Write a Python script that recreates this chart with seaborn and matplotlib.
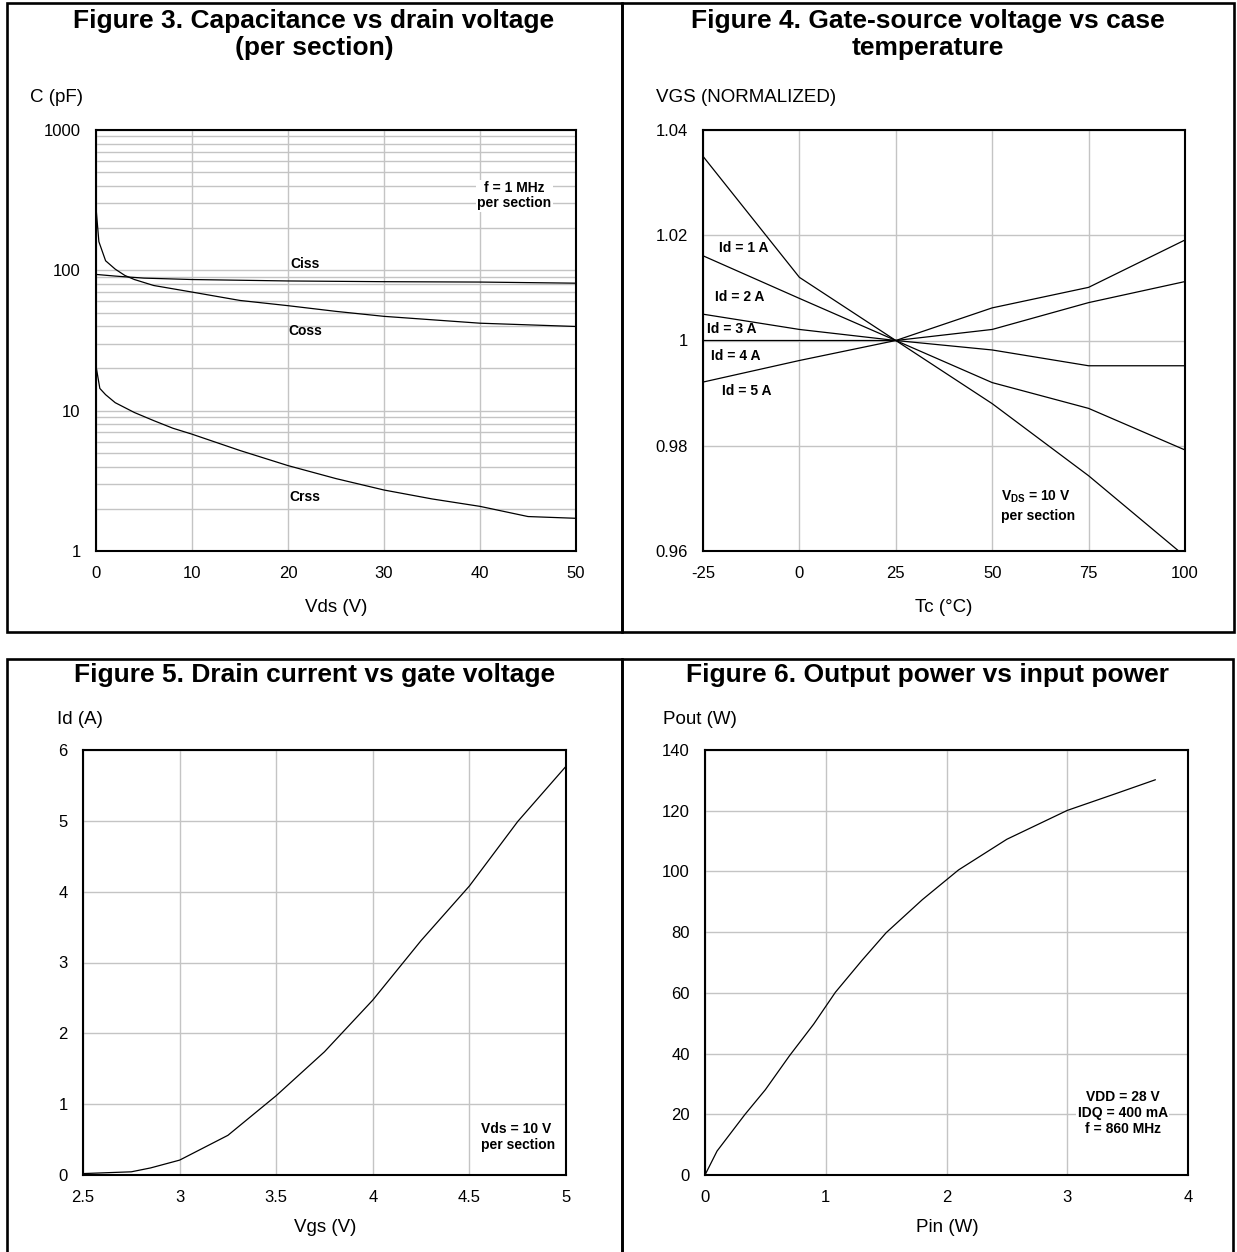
import numpy as np
import pandas as pd
import matplotlib
matplotlib.use("Agg")
import matplotlib.pyplot as plt
import matplotlib.patches as mpatches
from matplotlib.ticker import LogLocator, NullFormatter, FixedLocator, FormatStrFormatter
import seaborn as sns

sns.set_style("white")
plt.rcParams["font.family"] = ["Liberation Sans", "DejaVu Sans"]
plt.rcParams["axes.unicode_minus"] = False
plt.rcParams["mathtext.fontset"] = "custom"
plt.rcParams["mathtext.bf"] = "Liberation Sans:bold"
plt.rcParams["mathtext.rm"] = "Liberation Sans"
plt.rcParams["mathtext.default"] = "bf"
for chave in ["text.color", "axes.labelcolor", "xtick.color", "ytick.color"]:
    plt.rcParams[chave] = "black"

LARGURA, ALTURA = 1237, 1252
COR_GRADE = "#c4c4c4"
COR_LINHA = "black"

# ── Figure 3: capacitancia x Vds ─────────────────────────────────────────────
vds_ciss = [0, 2, 5, 10, 15, 20, 25, 30, 40, 50]
ciss = [93.5, 91, 88, 86, 85, 84, 83.5, 83, 82.5, 81]
vds_coss = [0, 0.3, 1, 2, 3, 4, 6, 10, 15, 20, 25, 30, 40, 50]
coss = [280, 160, 117, 102, 92, 86, 78, 70, 61, 56, 51, 47, 42, 39.8]
vds_crss = [0, 0.4, 1, 2, 4, 6, 8, 10, 15, 20, 25, 30, 35, 40, 45, 50]
crss = [20.8, 14.4, 13.0, 11.4, 9.7, 8.5, 7.5, 6.8, 5.2, 4.06, 3.28, 2.72, 2.35, 2.08, 1.76, 1.71]

# ── Figure 4: VGS normalizado x Tc ───────────────────────────────────────────
tc = [-25, 0, 25, 50, 75, 100]
vgs_id1 = [1.035, 1.012, 1.0, 0.988, 0.9743, 0.959]
vgs_id2 = [1.0161, 1.008, 1.0, 0.992, 0.9871, 0.9792]
vgs_id3 = [1.005, 1.0021, 1.0, 0.9982, 0.9952, 0.9952]
vgs_id4 = [1.0, 1.0, 1.0, 1.0021, 1.0072, 1.0112]
vgs_id5 = [0.9921, 0.9962, 1.0, 1.0062, 1.0101, 1.0191]
rotulos_id = ["Id = 1 A", "Id = 2 A", "Id = 3 A", "Id = 4 A", "Id = 5 A"]

# ── Figure 5: Id x Vgs ───────────────────────────────────────────────────────
vgs = [2.5, 2.75, 2.85, 3.0, 3.25, 3.5, 3.75, 4.0, 4.25, 4.5, 4.75, 5.0]
id_a = [0.02, 0.045, 0.1, 0.21, 0.56, 1.12, 1.74, 2.47, 3.31, 4.08, 4.99, 5.77]

# ── Figure 6: Pout x Pin ─────────────────────────────────────────────────────
pin = [0, 0.1, 0.33, 0.5, 0.7, 0.9, 1.08, 1.3, 1.5, 1.8, 2.1, 2.5, 3.0, 3.4, 3.73]
pout = [0, 7.9, 19.9, 28.1, 39.3, 49.7, 60.2, 70.7, 79.8, 90.7, 100.5, 110.6, 120.1, 125.6, 130.2]


def fx(x):
    return x / LARGURA


def fy(y):
    return 1 - y / ALTURA


def criar_eixo(fig, x0, y0, x1, y1):
    ax = fig.add_axes([fx(x0), fy(y1), (x1 - x0) / LARGURA, (y1 - y0) / ALTURA])
    ax.set_facecolor("white")
    for s in ax.spines.values():
        s.set_color("black")
        s.set_linewidth(1.5)
        s.set_zorder(5)
    ax.tick_params(axis="both", which="both", length=0, labelsize=12, colors="black")
    ax.tick_params(axis="x", pad=11)
    ax.tick_params(axis="y", pad=11)
    ax.grid(True, which="major", color=COR_GRADE, linewidth=1.0)
    ax.set_axisbelow(True)
    ax.set_xlabel("")
    ax.set_ylabel("")
    return ax


fig = plt.figure(figsize=(LARGURA / 100, ALTURA / 100), dpi=100)

# molduras
for (x0, y0, x1, y1) in [(7, 3, 622, 632), (622, 3, 1234, 632),
                         (7, 659, 622, 1262), (622, 659, 1233, 1262)]:
    fig.patches.append(mpatches.Rectangle((fx(x0), fy(y1)), (x1 - x0) / LARGURA,
                                          (y1 - y0) / ALTURA, transform=fig.transFigure,
                                          fill=False, edgecolor="black", linewidth=1.9))

tit = dict(fontsize=19, fontweight="bold", ha="center", va="top", linespacing=1.15)
fig.text(fx(314), fy(9), "Figure 3. Capacitance vs drain voltage\n(per section)", **tit)
fig.text(fx(928), fy(9), "Figure 4. Gate-source voltage vs case\ntemperature", **tit)
fig.text(fx(315), fy(663), "Figure 5. Drain current vs gate voltage", **tit)
fig.text(fx(928), fy(663), "Figure 6. Output power vs input power", **tit)

lab = dict(fontsize=13.5, va="center")
fig.text(fx(30), fy(97), "C (pF)", ha="left", **lab)
fig.text(fx(656), fy(97), "VGS (NORMALIZED)", ha="left", **lab)
fig.text(fx(57), fy(720), "Id (A)", ha="left", **lab)
fig.text(fx(663), fy(720), "Pout (W)", ha="left", **lab)
fig.text(fx(336), fy(607), "Vds (V)", ha="center", **lab)
fig.text(fx(944), fy(607), "Tc (°C)", ha="center", **lab)
fig.text(fx(325), fy(1227), "Vgs (V)", ha="center", **lab)
fig.text(fx(947), fy(1227), "Pin (W)", ha="center", **lab)

nota = dict(fontsize=10, fontweight="bold")
caixa = dict(facecolor="white", edgecolor="none", pad=1)

# Figure 3
ax3 = criar_eixo(fig, 96, 130, 576, 551)
cap = pd.concat([
    pd.DataFrame({"vds": vds_ciss, "c": ciss, "curva": "Ciss"}),
    pd.DataFrame({"vds": vds_coss, "c": coss, "curva": "Coss"}),
    pd.DataFrame({"vds": vds_crss, "c": crss, "curva": "Crss"}),
])
sns.lineplot(data=cap, x="vds", y="c", hue="curva", palette=[COR_LINHA] * 3,
             linewidth=0.9, legend=False, sort=False, ax=ax3)
ax3.set_yscale("log")
ax3.set_xlim(0, 50)
ax3.set_ylim(1, 1000)
ax3.set_xticks([0, 10, 20, 30, 40, 50])
ax3.yaxis.set_major_locator(FixedLocator([1, 10, 100, 1000]))
ax3.yaxis.set_major_formatter(FormatStrFormatter("%g"))
ax3.yaxis.set_minor_locator(LogLocator(base=10, subs=np.arange(2, 10)))
ax3.yaxis.set_minor_formatter(NullFormatter())
ax3.grid(True, which="minor", axis="y", color=COR_GRADE, linewidth=1.0)
ax3.set_xlabel("")
ax3.set_ylabel("")
ax3.text(21.8, 111, "Ciss", ha="center", va="center", **nota)
ax3.text(21.8, 37, "Coss", ha="center", va="center", **nota)
ax3.text(21.8, 2.43, "Crss", ha="center", va="center", **nota)
ax3.text(43.6, 340, "f = 1 MHz\nper section", ha="center", va="center",
         linespacing=1.1, bbox=caixa, **nota)

# Figure 4
ax4 = criar_eixo(fig, 703, 130, 1185, 551)
temp = pd.concat([
    pd.DataFrame({"tc": tc, "vgs": v, "curva": r})
    for v, r in zip([vgs_id1, vgs_id2, vgs_id3, vgs_id4, vgs_id5], rotulos_id)
])
sns.lineplot(data=temp, x="tc", y="vgs", hue="curva", palette=[COR_LINHA] * 5,
             linewidth=0.9, legend=False, ax=ax4)
ax4.set_xlim(-25, 100)
ax4.set_ylim(0.96, 1.04)
ax4.set_xticks([-25, 0, 25, 50, 75, 100])
ax4.set_yticks([0.96, 0.98, 1.0, 1.02, 1.04])
ax4.yaxis.set_major_formatter(FormatStrFormatter("%g"))
ax4.set_xlabel("")
ax4.set_ylabel("")
for (xt, yt), r in zip([(-20.9, 1.0176), (-22.0, 1.0083), (-24.0, 1.0022),
                        (-23.0, 0.9971), (-20.2, 0.9904)], rotulos_id):
    ax4.text(xt, yt, r, ha="left", va="center", **nota)
ax4.text(52.3, 0.9686, "V$_{DS}$ = 10 V\nper section", ha="left", va="center",
         linespacing=1.3, **nota)

# Figure 5
ax5 = criar_eixo(fig, 83, 750, 566, 1175)
sns.lineplot(x=vgs, y=id_a, color=COR_LINHA, linewidth=0.9, ax=ax5)
ax5.set_xlim(2.5, 5)
ax5.set_ylim(0, 6)
ax5.set_xticks([2.5, 3, 3.5, 4, 4.5, 5])
ax5.xaxis.set_major_formatter(FormatStrFormatter("%g"))
ax5.set_yticks(range(0, 7))
ax5.text(4.56, 0.54, "Vds = 10 V\nper section", ha="left", va="center",
         linespacing=1.2, **nota)

# Figure 6
ax6 = criar_eixo(fig, 705, 750, 1188, 1175)
sns.lineplot(x=pin, y=pout, color=COR_LINHA, linewidth=0.9, ax=ax6)
ax6.set_xlim(0, 4)
ax6.set_ylim(0, 140)
ax6.set_xticks(range(0, 5))
ax6.set_yticks(range(0, 141, 20))
ax6.text(3.46, 20.4, "VDD = 28 V\nIDQ = 400 mA\nf = 860 MHz", ha="center", va="center",
         linespacing=1.2, bbox=caixa, **nota)

fig.savefig("out.png", dpi=100, facecolor="white")
